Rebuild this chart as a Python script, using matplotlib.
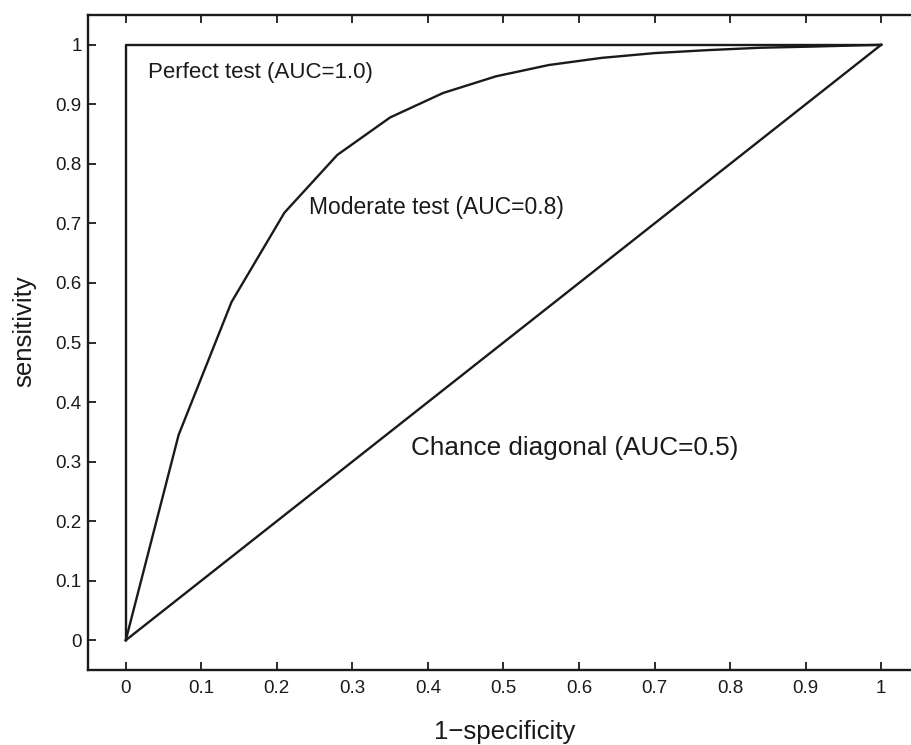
import matplotlib
matplotlib.use("Agg")
import matplotlib.pyplot as plt
import numpy as np

plt.rcParams['font.family'] = ['Liberation Sans', 'DejaVu Sans']

# Data
perfect_x = [0, 0, 1]
perfect_y = [0, 1, 1]
moderate_x = [0, 0.07, 0.14, 0.21, 0.28, 0.35, 0.42, 0.49, 0.56, 0.63, 0.70, 0.77, 0.84, 0.91, 1.0]
moderate_y = [0, 0.345, 0.568, 0.718, 0.815, 0.878, 0.919, 0.947, 0.966, 0.978, 0.986, 0.991, 0.995, 0.997, 1.0]
chance_x = [0, 1]
chance_y = [0, 1]
ticks = [0, 0.1, 0.2, 0.3, 0.4, 0.5, 0.6, 0.7, 0.8, 0.9, 1]
tick_labels = ['0', '0.1', '0.2', '0.3', '0.4', '0.5', '0.6', '0.7', '0.8', '0.9', '1']

fig = plt.figure(figsize=(9.12, 7.45), dpi=100)
ax = fig.add_axes([88/912, 1 - 670/745, (919 - 88)/912, (670 - 15)/745])

lc = '#1a1a1a'
ax.plot(perfect_x, perfect_y, color=lc, lw=1.7)
ax.plot(moderate_x, moderate_y, color=lc, lw=1.7)
ax.plot(chance_x, chance_y, color=lc, lw=1.7)

ax.set_xlim(-0.05, 1.05)
ax.set_ylim(-0.05, 1.05)
ax.set_xticks(ticks)
ax.set_xticklabels(tick_labels)
ax.set_yticks(ticks)
ax.set_yticklabels(tick_labels)
ax.tick_params(direction='in', length=6, width=1.3, top=True, right=True,
               labelsize=13.5, colors=lc)
ax.tick_params(axis='x', pad=7.5)
ax.tick_params(axis='y', pad=4.5)
for s in ax.spines.values():
    s.set_linewidth(1.7)
    s.set_color(lc)

ax.set_xlabel('1\u2212specificity', fontsize=18.5, color=lc, va='center')
ax.set_ylabel('sensitivity', fontsize=18.5, color=lc, va='center')
ax.xaxis.set_label_coords((505 - 88) / 831, (670 - 732) / 655)
ax.yaxis.set_label_coords((24 - 88) / 831, (670 - 331) / 655)

ax.text(0.029, 0.953, 'Perfect test (AUC=1.0)', fontsize=16, va='center', ha='left', color=lc)
ax.text(0.242, 0.726, 'Moderate test (AUC=0.8)', fontsize=16.5, va='center', ha='left', color=lc)
ax.text(0.377, 0.322, 'Chance diagonal (AUC=0.5)', fontsize=18.8, va='center', ha='left', color=lc)

fig.savefig('out.png', dpi=100)
